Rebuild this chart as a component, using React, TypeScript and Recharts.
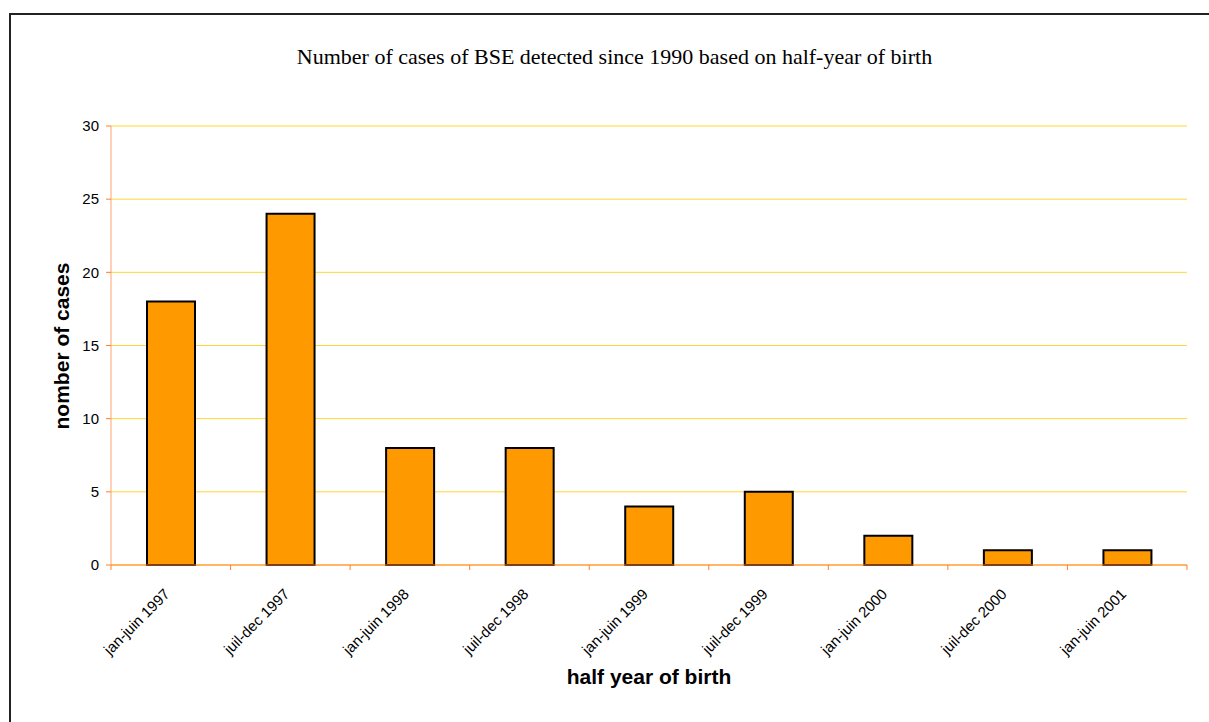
import React from 'react';
import { BarChart, Bar, XAxis, YAxis, CartesianGrid } from 'recharts';

const periods = [
  'jan-juin 1997',
  'juil-dec 1997',
  'jan-juin 1998',
  'juil-dec 1998',
  'jan-juin 1999',
  'juil-dec 1999',
  'jan-juin 2000',
  'juil-dec 2000',
  'jan-juin 2001',
];
const cases = [18, 24, 8, 8, 4, 5, 2, 1, 1];
const yTicks = [0, 5, 10, 15, 20, 25, 30];

const data = periods.map((p, i) => ({ period: p, cases: cases[i] }));

const SANS = 'Arial, "Liberation Sans", sans-serif';
const AXIS_ORANGE = '#FF7F2A';

// category label rotated 45°, plus tick marks on the band edges
const PeriodTick = (props: any) => {
  const { x, y, payload, index, visibleTicksCount, width } = props;
  const count = visibleTicksCount || periods.length;
  const half = (width || 1076) / count / 2;
  return (
    <g>
      <line x1={x - half} x2={x - half} y1={y} y2={y + 5} stroke={AXIS_ORANGE} />
      {index === count - 1 && (
        <line x1={x + half} x2={x + half} y1={y} y2={y + 5} stroke={AXIS_ORANGE} />
      )}
      <text
        transform={`translate(${x},${y + 30}) rotate(-45)`}
        textAnchor="end"
        fontSize={15}
        fontFamily={SANS}
        fill="#000"
      >
        {payload.value}
      </text>
    </g>
  );
};

const App: React.FC = () => {
  return (
    <div
      style={{
        position: 'absolute',
        left: 0,
        top: 0,
        width: 1209,
        height: 722,
        overflow: 'hidden',
        background: '#fff',
      }}
    >
      <div
        style={{
          position: 'absolute',
          left: 9,
          top: 13,
          width: 1300,
          height: 800,
          border: '2px solid #222',
        }}
      />
      <div
        style={{
          position: 'absolute',
          left: 0,
          width: 1229,
          top: 44,
          textAlign: 'center',
          fontFamily: '"Liberation Serif", "Times New Roman", serif',
          fontSize: 22,
        }}
      >
        Number of cases of BSE detected since 1990 based on half-year of birth
      </div>
      <div
        style={{
          position: 'absolute',
          left: 62,
          top: 346,
          transform: 'translate(-50%, -50%) rotate(-90deg)',
          whiteSpace: 'nowrap',
          fontFamily: SANS,
          fontWeight: 'bold',
          fontSize: 21,
        }}
      >
        nomber of cases
      </div>
      <div
        style={{
          position: 'absolute',
          left: 649,
          top: 677,
          transform: 'translate(-50%, -50%)',
          whiteSpace: 'nowrap',
          fontFamily: SANS,
          fontWeight: 'bold',
          fontSize: 21,
        }}
      >
        half year of birth
      </div>
      <BarChart
        width={1209}
        height={722}
        data={data}
        margin={{ top: 126, right: 22, bottom: 57, left: 61 }}
        style={{ position: 'absolute', left: 0, top: 0 }}
      >
        <CartesianGrid vertical={false} stroke="#FFD633" strokeWidth={1} />
        <XAxis
          dataKey="period"
          interval={0}
          height={100}
          tickSize={0}
          tickMargin={0}
          tickLine={false}
          axisLine={{ stroke: AXIS_ORANGE }}
          tick={<PeriodTick />}
        />
        <YAxis
          domain={[0, 30]}
          ticks={yTicks}
          width={50}
          tickSize={5}
          tickMargin={7}
          axisLine={{ stroke: '#FFA070' }}
          tickLine={{ stroke: AXIS_ORANGE }}
          tick={{ fontSize: 15, fontFamily: SANS, fill: '#000' }}
        />
        <Bar
          dataKey="cases"
          fill="#FF9900"
          stroke="#000"
          strokeWidth={2}
          barSize={48}
          isAnimationActive={false}
        />
      </BarChart>
    </div>
  );
};

export default App;
